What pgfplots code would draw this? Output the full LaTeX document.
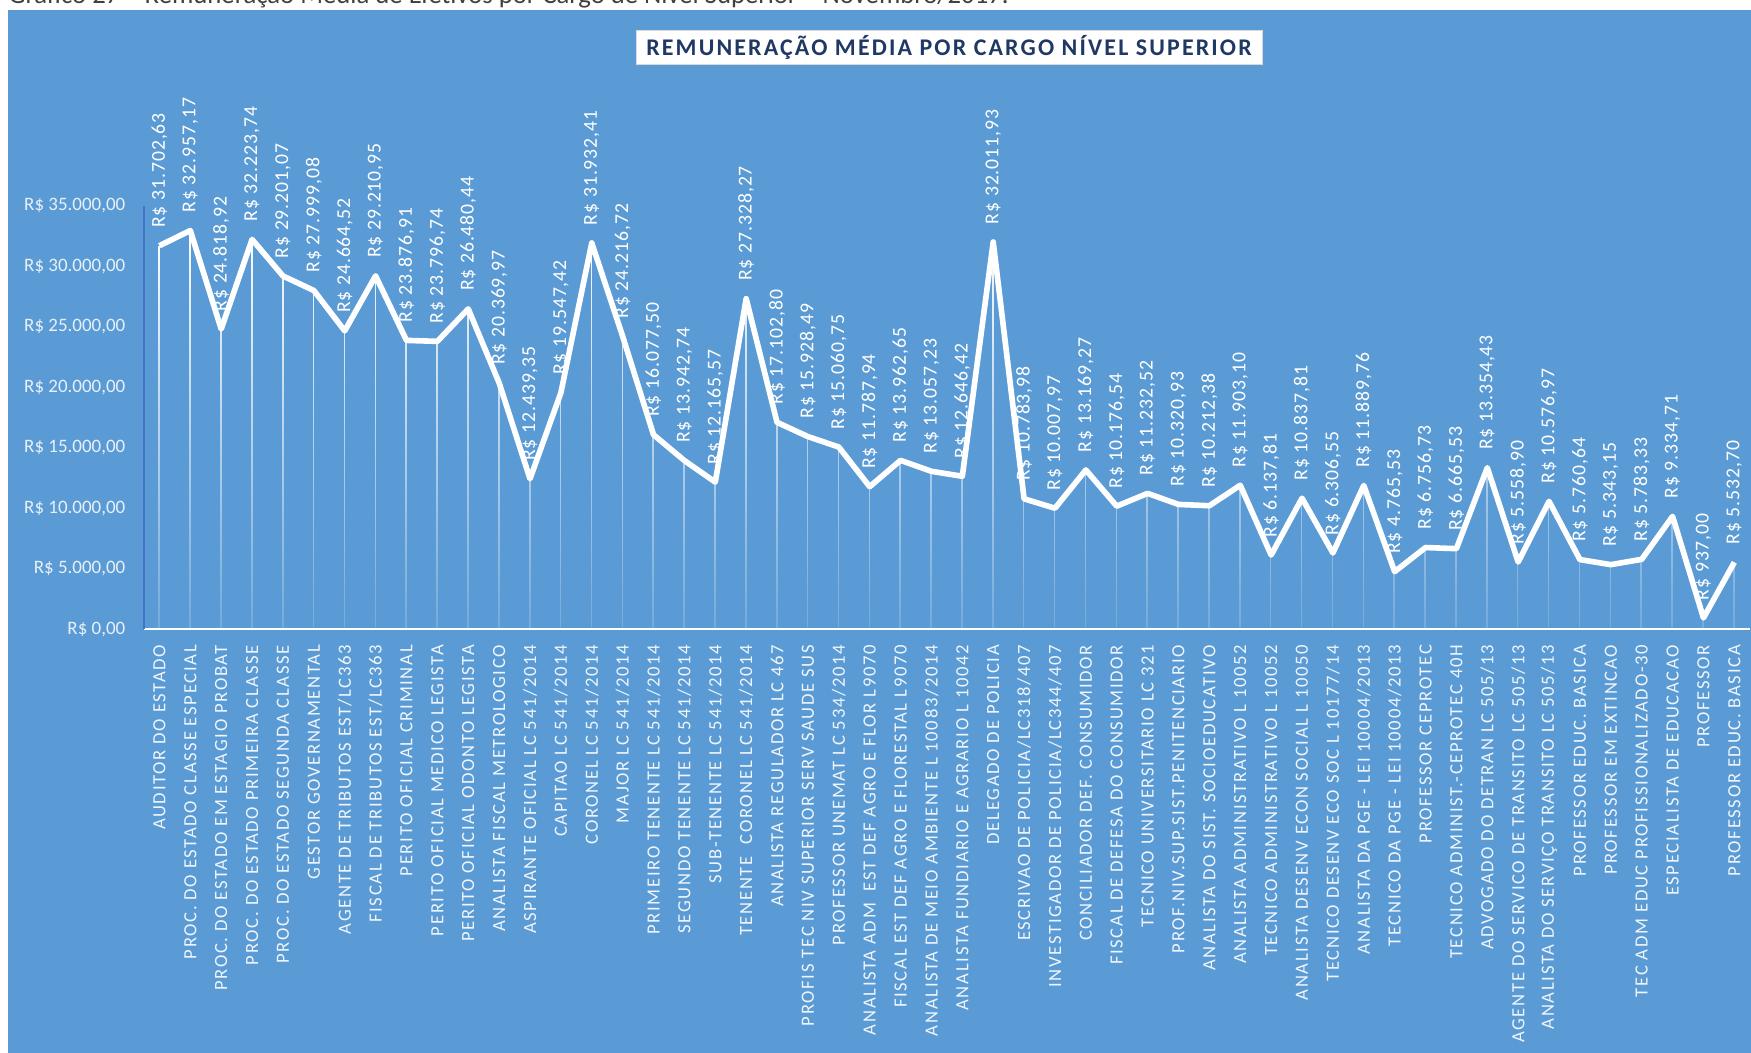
\documentclass[border=0pt]{standalone}
\usepackage{pgfplots}
\pgfplotsset{compat=1.18}
\usepackage{pgfplotstable}
\usepackage{fontspec}
\usetikzlibrary{fadings}
\setmainfont{Carlito}
\newfontfamily\catfont[LetterSpace=9]{Carlito}
\newfontfamily\lblfont[LetterSpace=5]{Carlito}
\newfontfamily\titlefont[LetterSpace=9]{Carlito}
\definecolor{bgblue}{HTML}{5B9BD5}
\definecolor{navy}{HTML}{1F3864}
\definecolor{axisblue}{HTML}{4472C4}
\definecolor{capgray}{HTML}{404040}
\tikzfading[name=dropfade, top color=transparent!0, bottom color=transparent!85]

\pgfplotstableread{
x y lbl
0 31702.63 31.702,63
1 32957.17 32.957,17
2 24818.92 24.818,92
3 32223.74 32.223,74
4 29201.07 29.201,07
5 27999.08 27.999,08
6 24664.52 24.664,52
7 29210.95 29.210,95
8 23876.91 23.876,91
9 23796.74 23.796,74
10 26480.44 26.480,44
11 20369.97 20.369,97
12 12439.35 12.439,35
13 19547.42 19.547,42
14 31932.41 31.932,41
15 24216.72 24.216,72
16 16077.50 16.077,50
17 13942.74 13.942,74
18 12165.57 12.165,57
19 27328.27 27.328,27
20 17102.80 17.102,80
21 15928.49 15.928,49
22 15060.75 15.060,75
23 11787.94 11.787,94
24 13962.65 13.962,65
25 13057.23 13.057,23
26 12646.42 12.646,42
27 32011.93 32.011,93
28 10783.98 10.783,98
29 10007.97 10.007,97
30 13169.27 13.169,27
31 10176.54 10.176,54
32 11232.52 11.232,52
33 10320.93 10.320,93
34 10212.38 10.212,38
35 11903.10 11.903,10
36 6137.81 6.137,81
37 10837.81 10.837,81
38 6306.55 6.306,55
39 11889.76 11.889,76
40 4765.53 4.765,53
41 6756.73 6.756,73
42 6665.53 6.665,53
43 13354.43 13.354,43
44 5558.90 5.558,90
45 10576.97 10.576,97
46 5760.64 5.760,64
47 5343.15 5.343,15
48 5783.33 5.783,33
49 9334.71 9.334,71
50 937.00 937,00
51 5532.70 5.532,70
}\datatable

\begin{document}
\begin{tikzpicture}
\path[use as bounding box] (0,0) rectangle (17.51,10.53);
\fill[white] (0,0) rectangle (17.51,10.53);
\node[anchor=base west, text=capgray, inner sep=0pt] at (0.08,10.49)
  {\fontsize{7.6pt}{9pt}\selectfont Gráfico 27 – Remuneração Média de Efetivos por Cargo de Nível Superior – Novembro/2017.};
\fill[bgblue] (0.08,0) rectangle (17.51,10.43);
\draw[white!85!black, fill=white, line width=0.2pt] (6.365,9.89) rectangle (12.62,10.23);
\node[text=navy, inner sep=0pt] at (9.49,10.06)
  {\titlefont\bfseries\fontsize{6.8pt}{7.5pt}\selectfont REMUNERAÇÃO MÉDIA POR CARGO NÍVEL SUPERIOR};

\begin{axis}[
  at={(1.44cm,4.237cm)}, anchor=south west,
  scale only axis, width=16.058cm, height=4.235cm,
  xmin=-0.5, xmax=51.5, ymin=0, ymax=35000,
  clip=false,
  scaled y ticks=false, scaled x ticks=false,
  axis lines*=left,
  x axis line style={white, line width=0.6pt},
  y axis line style={axisblue, line width=0.35pt},
  major tick length=0pt,
  ytick={0,5000,...,35000},
  yticklabels={{R\$ 0,00},{R\$ 5.000,00},{R\$ 10.000,00},{R\$ 15.000,00},{R\$ 20.000,00},{R\$ 25.000,00},{R\$ 30.000,00},{R\$ 35.000,00}},
  yticklabel style={font=\fontsize{5.4pt}{6pt}\selectfont, text=white!85!bgblue, anchor=east, inner sep=0pt},
  yticklabel shift=0.18cm,
  xtick={0,...,51},
  xticklabels={AUDITOR DO ESTADO,PROC. DO ESTADO CLASSE ESPECIAL,PROC. DO ESTADO EM ESTAGIO PROBAT,PROC. DO ESTADO PRIMEIRA CLASSE,PROC. DO ESTADO SEGUNDA CLASSE,GESTOR GOVERNAMENTAL,AGENTE DE TRIBUTOS EST/LC363,FISCAL DE TRIBUTOS EST/LC363,PERITO OFICIAL CRIMINAL,PERITO OFICIAL MEDICO LEGISTA,PERITO OFICIAL ODONTO LEGISTA,ANALISTA FISCAL METROLOGICO,ASPIRANTE OFICIAL LC 541/2014,CAPITAO LC 541/2014,CORONEL LC 541/2014,MAJOR LC 541/2014,PRIMEIRO TENENTE LC 541/2014,SEGUNDO TENENTE LC 541/2014,SUB-TENENTE LC 541/2014,TENENTE~ CORONEL LC 541/2014,ANALISTA REGULADOR LC 467,PROFIS TEC NIV SUPERIOR SERV SAUDE SUS,PROFESSOR UNEMAT LC 534/2014,ANALISTA ADM~ EST DEF AGRO E FLOR L9070,FISCAL EST DEF AGRO E FLORESTAL L9070,ANALISTA DE MEIO AMBIENTE L 10083/2014,ANALISTA FUNDIARIO E AGRARIO L 10042,DELEGADO DE POLICIA,ESCRIVAO DE POLICIA/LC318/407,INVESTIGADOR DE POLICIA/LC344/407,CONCILIADOR DEF. CONSUMIDOR,FISCAL DE DEFESA DO CONSUMIDOR,TECNICO UNIVERSITARIO LC 321,PROF.NIV.SUP.SIST.PENITENCIARIO,ANALISTA DO SIST. SOCIOEDUCATIVO,ANALISTA ADMINISTRATIVO L 10052,TECNICO ADMINISTRATIVO L 10052,ANALISTA DESENV ECON SOCIAL L 10050,TECNICO DESENV ECO SOC L 10177/14,ANALISTA DA PGE - LEI 10004/2013,TECNICO DA PGE - LEI 10004/2013,PROFESSOR CEPROTEC,TECNICO ADMINIST.-CEPROTEC 40H,ADVOGADO DO DETRAN LC 505/13,AGENTE DO SERVICO DE TRANSITO LC 505/13,ANALISTA DO SERVIÇO TRANSITO LC 505/13,PROFESSOR EDUC. BASICA,PROFESSOR EM EXTINCAO,TEC ADM EDUC PROFISSIONALIZADO-30,ESPECIALISTA DE EDUCACAO,PROFESSOR,PROFESSOR EDUC. BASICA},
  xticklabel style={font=\catfont\fontsize{5.3pt}{6pt}\selectfont, text=white!90!bgblue, rotate=90, anchor=east, inner sep=0pt},
  xticklabel shift=0.15cm,
]
\addplot[ycomb, draw=white, line width=0.45pt, mark=none, forget plot, path fading=dropfade, fit fading=true]
  table[x=x, y=y]{\datatable};
\addplot[white, line width=1.6pt, line join=round, mark=none,
  point meta=explicit symbolic,
  nodes near coords={R\$ \pgfplotspointmeta},
  every node near coord/.style={rotate=90, anchor=west, text=white, inner ysep=0pt, inner xsep=4.3pt, font=\lblfont\fontsize{5.6pt}{6pt}\selectfont},
  nodes near coords align={},
] table[x=x, y=y, meta=lbl]{\datatable};
\end{axis}
\end{tikzpicture}
\end{document}
